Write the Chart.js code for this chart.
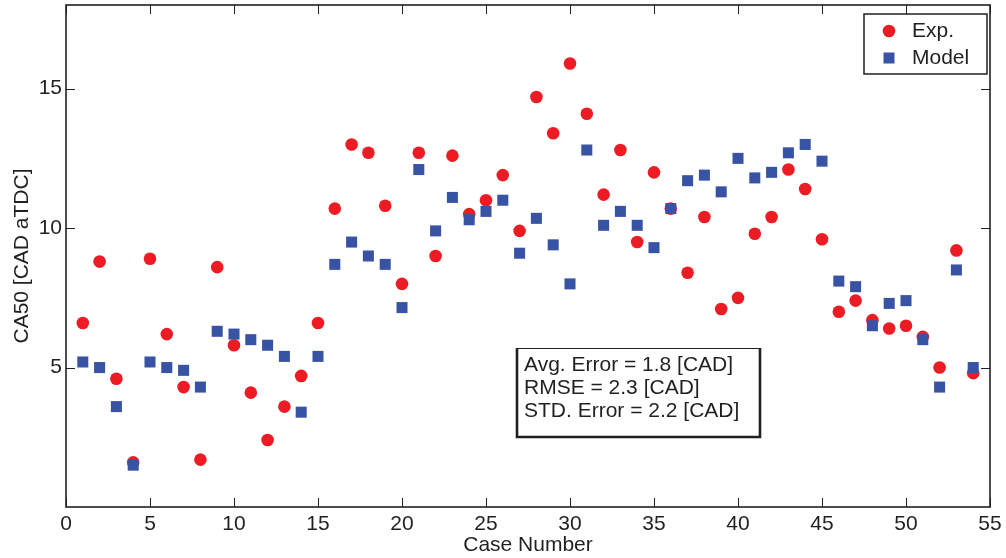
<!DOCTYPE html>
<html>
<head>
<meta charset="utf-8">
<script src="https://cdn.jsdelivr.net/npm/chart.js@4/dist/chart.umd.min.js"></script>
<style>
  html, body { margin: 0; padding: 0; background: #fff; }
  #wrap { width: 1006px; height: 558px; }
</style>
</head>
<body>
<div id="wrap"><canvas id="c"></canvas></div>
<script>
// case numbers on the x axis
const caseNumbers = [1, 2, 3, 4, 5, 6, 7, 8, 9, 10, 11, 12, 13, 14, 15, 16, 17, 18, 19, 20,
  21, 22, 23, 24, 25, 26, 27, 28, 29, 30, 31, 32, 33, 34, 35, 36, 37, 38, 39, 40,
  41, 42, 43, 44, 45, 46, 47, 48, 49, 50, 51, 52, 53, 54];

// measured CA50
const expValues = [6.6, 8.8, 4.6, 1.6, 8.9, 6.2, 4.3, 1.7, 8.6, 5.8, 4.1, 2.4, 3.6, 4.7, 6.6,
  10.7, 13.0, 12.7, 10.8, 8.0, 12.7, 9.0, 12.6, 10.5, 11.0, 11.9, 9.9, 14.7, 13.4, 15.9,
  14.1, 11.2, 12.8, 9.5, 12.0, 10.7, 8.4, 10.4, 7.1, 7.5, 9.8, 10.4, 12.1, 11.4, 9.6,
  7.0, 7.4, 6.7, 6.4, 6.5, 6.1, 5.0, 9.2, 4.8];

// model CA50
const modelValues = [5.2, 5.0, 3.6, 1.5, 5.2, 5.0, 4.9, 4.3, 6.3, 6.2, 6.0, 5.8, 5.4, 3.4, 5.4,
  8.7, 9.5, 9.0, 8.7, 7.15, 12.1, 9.9, 11.1, 10.3, 10.6, 11.0, 9.1, 10.35, 9.4, 8.0,
  12.8, 10.1, 10.6, 10.1, 9.3, 10.7, 11.7, 11.9, 11.3, 12.5, 11.8, 12.0, 12.7, 13.0, 12.4,
  8.1, 7.9, 6.5, 7.3, 7.4, 6.0, 4.3, 8.5, 5.0];

const xTicks = [0, 5, 10, 15, 20, 25, 30, 35, 40, 45, 50, 55];
const yTicks = [5, 10, 15];
const statLines = ['Avg. Error = 1.8 [CAD]', 'RMSE = 2.3 [CAD]', 'STD. Error = 2.2 [CAD]'];

const RED = '#ED1C24';
const BLUE = '#3953A4';
const INK = '#231F20';
const FONT = '"Liberation Sans", Arial, Helvetica, sans-serif';

function toPoints(vals) {
  return caseNumbers.map((c, i) => ({x: c, y: vals[i]}));
}

// box, inward ticks on all four sides
const frame = {
  id: 'frame',
  beforeDatasetsDraw(chart) {
    const {ctx, chartArea: a, scales} = chart;
    ctx.save();
    ctx.strokeStyle = INK;
    ctx.lineWidth = 1;
    const tl = 9;
    ctx.beginPath();
    xTicks.forEach(v => {
      const px = Math.round(scales.x.getPixelForValue(v)) + 0.5;
      ctx.moveTo(px, a.bottom); ctx.lineTo(px, a.bottom - tl);
      ctx.moveTo(px, a.top); ctx.lineTo(px, a.top + tl);
    });
    yTicks.forEach(v => {
      const py = Math.round(scales.y.getPixelForValue(v)) + 0.5;
      ctx.moveTo(a.left, py); ctx.lineTo(a.left + tl, py);
      ctx.moveTo(a.right, py); ctx.lineTo(a.right - tl, py);
    });
    ctx.stroke();
    ctx.lineWidth = 1.6;
    ctx.strokeRect(a.left, a.top, a.right - a.left, a.bottom - a.top);
    ctx.restore();
  },
  afterDraw(chart) {
    const {ctx, chartArea: a} = chart;
    ctx.save();
    // legend box
    const lx = a.right - 126, ly = a.top + 9, lw = 123, lh = 60;
    ctx.fillStyle = '#fff';
    ctx.fillRect(lx, ly, lw, lh);
    ctx.strokeStyle = INK;
    ctx.lineWidth = 1.5;
    ctx.strokeRect(lx, ly, lw, lh);
    ctx.fillStyle = RED;
    ctx.beginPath();
    ctx.arc(lx + 25, ly + 17, 6.3, 0, Math.PI * 2);
    ctx.fill();
    ctx.fillStyle = BLUE;
    ctx.fillRect(lx + 19.5, ly + 38.5, 11, 11);
    ctx.fillStyle = INK;
    ctx.font = '21px ' + FONT;
    ctx.textBaseline = 'middle';
    ctx.fillText(chart.data.datasets[0].label, lx + 48, ly + 17);
    ctx.fillText(chart.data.datasets[1].label, lx + 48, ly + 44);

    // stats box: thin top edge, heavier left/right/bottom
    const bx = a.left + 451, by = a.top + 343, bw = 243, bh = 89;
    ctx.fillStyle = '#fff';
    ctx.fillRect(bx, by, bw, bh);
    ctx.strokeStyle = INK;
    ctx.lineWidth = 1;
    ctx.strokeRect(bx, by + 0.5, bw, bh);
    ctx.lineWidth = 2.6;
    ctx.beginPath();
    ctx.moveTo(bx, by); ctx.lineTo(bx, by + bh); ctx.lineTo(bx + bw, by + bh); ctx.lineTo(bx + bw, by);
    ctx.stroke();
    ctx.fillStyle = INK;
    ctx.font = '21px ' + FONT;
    statLines.forEach((t, i) => ctx.fillText(t, bx + 7, by + 17 + i * 23.3));
    ctx.restore();
  }
};

new Chart(document.getElementById('c'), {
  type: 'scatter',
  data: {
    datasets: [
      {
        label: 'Exp.',
        data: toPoints(expValues),
        pointStyle: 'circle',
        pointRadius: 6.3,
        backgroundColor: RED,
        borderColor: RED,
        borderWidth: 0,
        order: 2
      },
      {
        label: 'Model',
        data: toPoints(modelValues),
        pointStyle: 'rect',
        pointRadius: 7.8,
        backgroundColor: BLUE,
        borderColor: BLUE,
        borderWidth: 0,
        order: 1
      }
    ]
  },
  options: {
    responsive: true,
    maintainAspectRatio: false,
    animation: false,
    events: [],
    layout: {autoPadding: false, padding: {top: 5, right: 16, left: 0, bottom: 0}},
    plugins: {legend: {display: false}, tooltip: {enabled: false}},
    scales: {
      x: {
        type: 'linear',
        min: 0, max: 55,
        afterBuildTicks: s => { s.ticks = xTicks.map(v => ({value: v})); },
        afterFit: s => { s.height = 51; s.paddingLeft = 0; s.paddingRight = 0; },
        grid: {display: false, drawTicks: false},
        border: {display: false},
        ticks: {color: INK, padding: 5, font: {family: FONT, size: 21}},
        title: {display: true, text: 'Case Number', color: INK, padding: {top: 0, bottom: 0}, font: {family: FONT, size: 21}}
      },
      y: {
        type: 'linear',
        min: 0, max: 18,
        afterBuildTicks: s => { s.ticks = yTicks.map(v => ({value: v})); },
        afterFit: s => { s.width = 66; s.paddingTop = 0; s.paddingBottom = 0; },
        grid: {display: false, drawTicks: false},
        border: {display: false},
        ticks: {color: INK, padding: 4, font: {family: FONT, size: 21}},
        title: {display: true, text: 'CA50 [CAD aTDC]', color: INK, padding: {top: 10, bottom: 0}, font: {family: FONT, size: 21}}
      }
    }
  },
  plugins: [frame]
});
</script>
</body>
</html>
